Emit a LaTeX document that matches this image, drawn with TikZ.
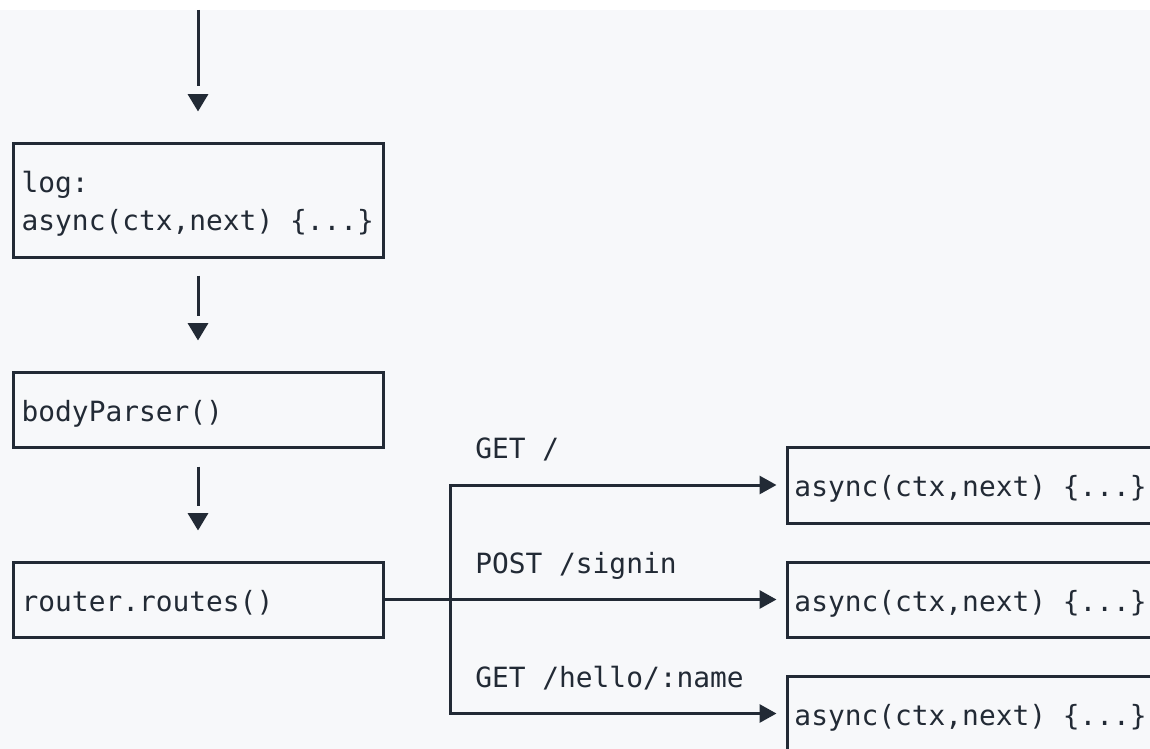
\documentclass[tikz,border=0pt]{standalone}
\usepackage{fontspec}
\setmonofont{DejaVu Sans Mono}
\usetikzlibrary{arrows.meta}
\definecolor{ink}{HTML}{222A35}
\definecolor{paper}{HTML}{F7F8FA}
\begin{document}
\begin{tikzpicture}[x=0.75pt,y=-0.75pt,
  box/.style={draw=ink, line width=2.25pt, minimum width=277.5pt, minimum height=56.25pt, inner sep=0pt},
  code/.style={anchor=base west, inner sep=0pt, text=ink, font=\ttfamily\fontsize{20.9pt}{28.5pt}\selectfont},
  vline/.style={draw=ink, line width=2.25pt},
  vtip/.style={draw=ink, line width=2.25pt, -{Triangle[length=13pt,width=15pt]}, shorten >=22.5pt},
  harrow/.style={draw=ink, line width=2.25pt, -{Triangle[length=12.75pt,width=13.5pt]}, shorten >=6.75pt}
]
\clip (0,0) rectangle (1150,749);
\fill[white] (0,0) rectangle (1150,749);
\fill[paper] (0,10) rectangle (1150,749);

% boxes
\node[box, minimum height=85.5pt] (log) at (198,200) {};
\node[box] (body) at (198,409.5) {};
\node[box] (router) at (198,599.5) {};
\node[box, minimum width=276pt, minimum height=57pt] (r1) at (971,485) {};
\node[box, minimum width=276pt] (r2) at (971,599.5) {};
\node[box, minimum width=276pt] (r3) at (971,713.5) {};

% texts
\node[code] (t1) at (21.4,192.5) {log:};
\node[code] (t2) at (21.4,230.5) {async(ctx,next) \{...\}};
\node[code] (t3) at (21.4,421) {bodyParser()};
\node[code] (t4) at (21.4,611) {router.routes()};
\node[code] (t5) at (794.2,496.5) {async(ctx,next) \{...\}};
\node[code] (t6) at (794.2,611) {async(ctx,next) \{...\}};
\node[code] (t7) at (794.2,725) {async(ctx,next) \{...\}};
\node[code] (l1) at (475,458.5) {GET /};
\node[code] (l2) at (475,573.5) {POST /signin};
\node[code] (l3) at (475,687.5) {GET /hello/:name};

% connectors (line, then its separate arrow head after a small gap)
\coordinate (top) at (198,10);
\draw[vline, shorten >=41.25pt] (top) -- (log.north);
\draw[vtip, shorten <=64pt] (top) -- (log.north);
\draw[vline, shorten <=12.75pt, shorten >=41.25pt] (log.south) -- (body.north);
\draw[vtip, shorten <=50.5pt] (log.south) -- (body.north);
\draw[vline, shorten <=13.5pt, shorten >=41.25pt] (body.south) -- (router.north);
\draw[vtip, shorten <=49.75pt] (body.south) -- (router.north);
\draw[harrow] (router.east) -- (r2.west);
\coordinate (j) at (450,599.5);
\draw[harrow] (j) |- (r1.west);
\draw[harrow] (j) |- (r3.west);
\end{tikzpicture}
\end{document}
